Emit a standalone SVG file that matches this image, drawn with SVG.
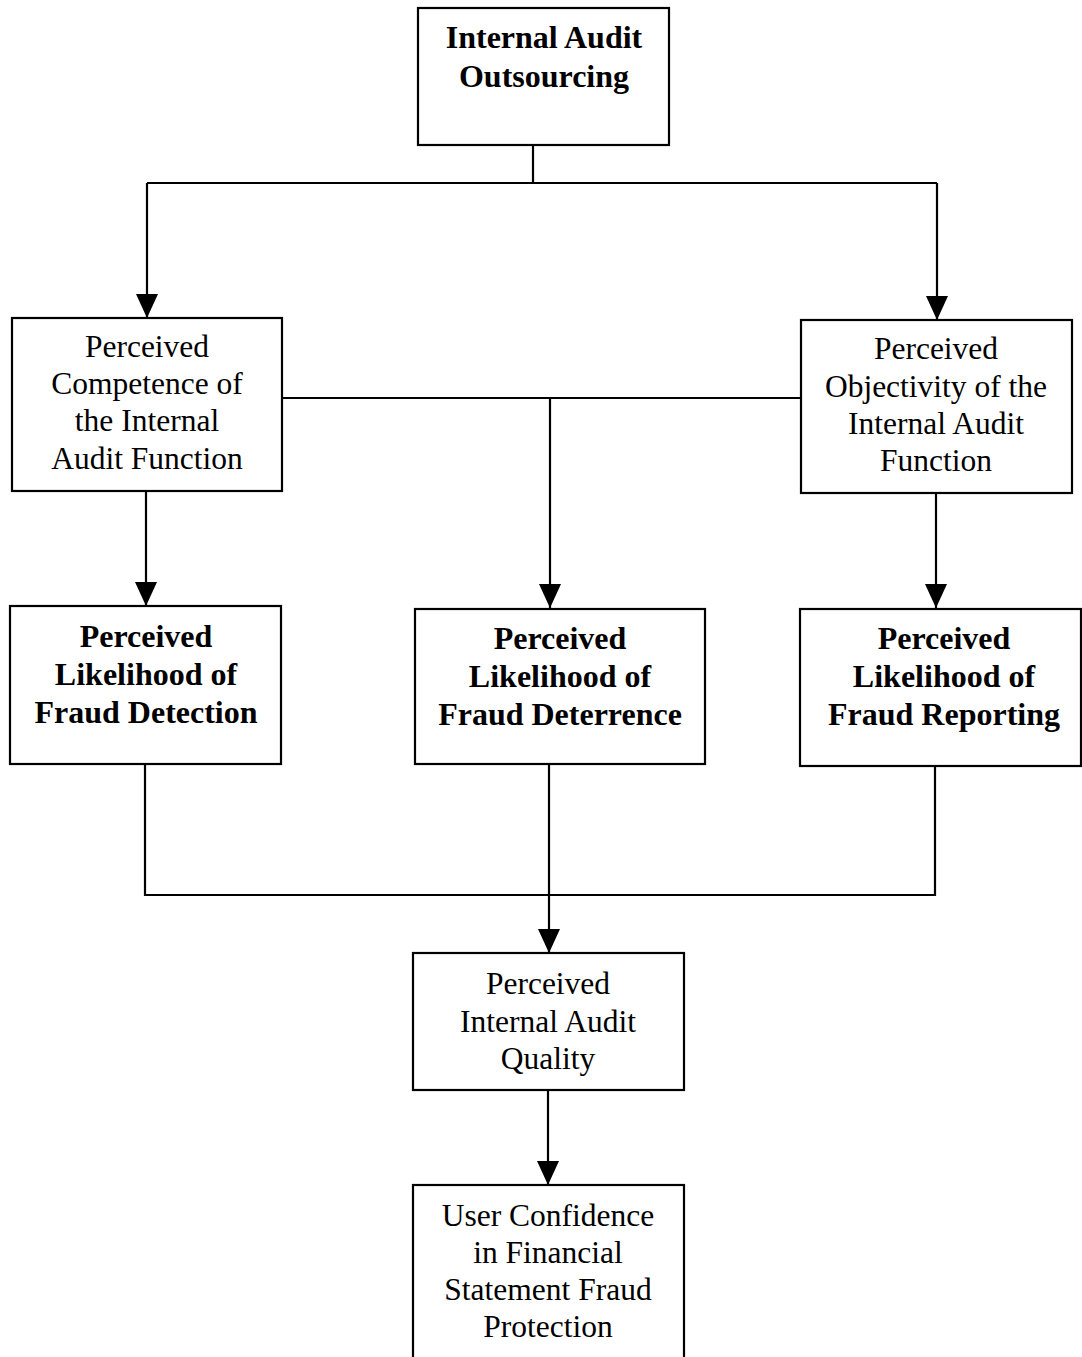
<svg xmlns="http://www.w3.org/2000/svg" width="1082" height="1357" viewBox="0 0 1082 1357">
<style>
.box{fill:#fff;stroke:#000;stroke-width:2.2}
.t{font-family:"Liberation Serif","Times New Roman",serif;font-size:31.5px;fill:#000;text-anchor:middle}
.b{font-weight:bold;font-size:32px}
.ln{fill:none;stroke:#000;stroke-width:2.2}
</style>
<defs>
<marker id="ah" markerUnits="userSpaceOnUse" markerWidth="26" markerHeight="26" viewBox="0 0 26 26" refX="24" refY="13" orient="auto">
<path d="M0,2 L24,13 L0,24 Z" fill="#000"/>
</marker>
</defs>
<rect width="1082" height="1357" fill="#fff"/>
<g id="connectors">
<path class="ln" d="M533,145 V183"/>
<path class="ln" d="M147,183 H937"/>
<path class="ln" d="M147,183 V318" marker-end="url(#ah)"/>
<path class="ln" d="M937,183 V320" marker-end="url(#ah)"/>
<path class="ln" d="M282,398 H801"/>
<path class="ln" d="M550,398 V608" marker-end="url(#ah)"/>
<path class="ln" d="M146,491 V606" marker-end="url(#ah)"/>
<path class="ln" d="M936,493 V608" marker-end="url(#ah)"/>
<path class="ln" d="M145,764 V895 H935 V766"/>
<path class="ln" d="M549,764 V953" marker-end="url(#ah)"/>
<path class="ln" d="M548,1090 V1185" marker-end="url(#ah)"/>
</g>
<g id="n-outsourcing">
<rect class="box" x="418" y="8" width="251" height="137"/>
<text class="t b" x="544" y="48">Internal Audit</text>
<text class="t b" x="544" y="87">Outsourcing</text>
</g>
<g id="n-competence">
<rect class="box" x="12" y="318" width="270" height="173"/>
<text class="t" x="147" y="357">Perceived</text>
<text class="t" x="147" y="394">Competence of</text>
<text class="t" x="147" y="431">the Internal</text>
<text class="t" x="147" y="469">Audit Function</text>
</g>
<g id="n-objectivity">
<rect class="box" x="801" y="320" width="271" height="173"/>
<text class="t" x="936" y="359">Perceived</text>
<text class="t" x="936" y="397">Objectivity of the</text>
<text class="t" x="936" y="434">Internal Audit</text>
<text class="t" x="936" y="471">Function</text>
</g>
<g id="n-detection">
<rect class="box" x="10" y="606" width="271" height="158"/>
<text class="t b" x="146" y="647">Perceived</text>
<text class="t b" x="146" y="685">Likelihood of</text>
<text class="t b" x="146" y="723">Fraud Detection</text>
</g>
<g id="n-deterrence">
<rect class="box" x="415" y="609" width="290" height="155"/>
<text class="t b" x="560" y="649">Perceived</text>
<text class="t b" x="560" y="687">Likelihood of</text>
<text class="t b" x="560" y="725">Fraud Deterrence</text>
</g>
<g id="n-reporting">
<rect class="box" x="800" y="609" width="281" height="157"/>
<text class="t b" x="944" y="649">Perceived</text>
<text class="t b" x="944" y="687">Likelihood of</text>
<text class="t b" x="944" y="725">Fraud Reporting</text>
</g>
<g id="n-quality">
<rect class="box" x="413" y="953" width="271" height="137"/>
<text class="t" x="548" y="994">Perceived</text>
<text class="t" x="548" y="1032">Internal Audit</text>
<text class="t" x="548" y="1069">Quality</text>
</g>
<g id="n-confidence">
<rect class="box" x="413" y="1185" width="271" height="190"/>
<text class="t" x="548" y="1226">User Confidence</text>
<text class="t" x="548" y="1263">in Financial</text>
<text class="t" x="548" y="1300">Statement Fraud</text>
<text class="t" x="548" y="1337">Protection</text>
</g>
</svg>
